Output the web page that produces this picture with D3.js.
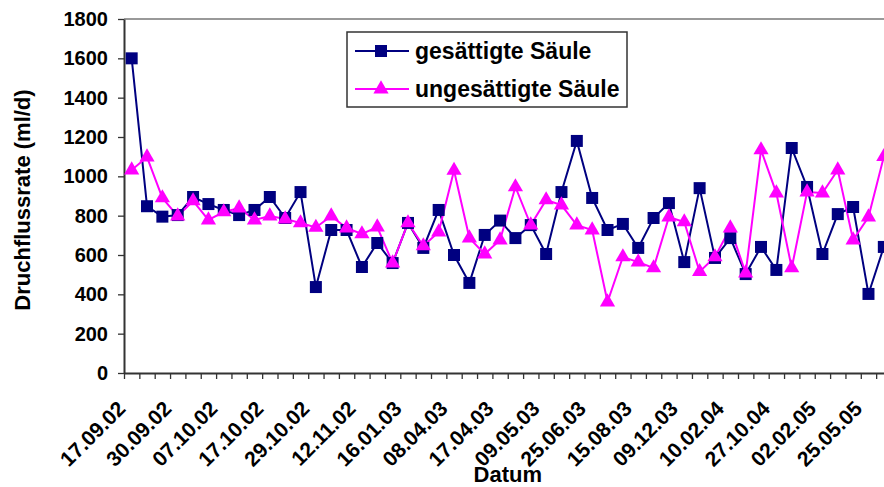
<!DOCTYPE html>
<html>
<head>
<meta charset="utf-8">
<script src="https://cdn.jsdelivr.net/npm/d3@7"></script>
<style>
  body { margin: 0; background: #fff; }
  svg { display: block; font-family: "Liberation Sans", Arial, sans-serif; font-weight: bold; }
</style>
</head>
<body>
<svg id="chart" width="884" height="487"></svg>
<script>
// Messwerte (ml/d), eine pro Messtermin
var gesaettigt = [1600, 848, 795, 803, 895, 859, 829, 803, 829, 895, 788, 920, 437, 727, 727, 539, 661, 559, 763, 636,
    829, 600, 458, 702, 775, 686, 752, 605, 920, 1180, 890, 727, 758, 636, 788, 864, 564, 940, 585, 686,
    503, 641, 524, 1144, 946, 605, 808, 844, 402, 641];
var ungesaettigt = [1032, 1098, 890, 798, 875, 778, 819, 839, 778, 798, 783, 763, 740, 798, 737, 707, 742, 559, 763, 646,
    717, 1030, 686, 605, 676, 946, 752, 880, 854, 752, 727, 361, 590, 564, 534, 793, 768, 515, 590, 737,
    508, 1134, 915, 534, 920, 915, 1032, 676, 793, 1100];
// only every third date is printed on the axis
var dateLabels = ["17.09.02", "30.09.02", "07.10.02", "17.10.02", "29.10.02", "12.11.02", "16.01.03", "08.04.03",
    "17.04.03", "09.05.03", "25.06.03", "15.08.03", "09.12.03", "10.02.04", "27.10.04", "02.02.05", "25.05.05"];
var labelEvery = 3;
var yTicks = [0, 200, 400, 600, 800, 1000, 1200, 1400, 1600, 1800];
var seriesNames = ["gesättigte Säule", "ungesättigte Säule"];

var svg = d3.select("#chart");

var plotLeft = 124, plotTop = 19, plotBottom = 373,
    band = 15.35,
    n = gesaettigt.length,
    plotRight = plotLeft + n * band;

var x = d3.scaleBand().domain(d3.range(n)).range([plotLeft, plotRight]);
var xEdge = d3.scaleLinear().domain([0, n]).range([plotLeft, plotRight]);
var y = d3.scaleLinear().domain([0, 1800]).range([plotBottom, plotTop]);

// top border of plot area
svg.append("line")
    .attr("x1", plotLeft).attr("x2", 884)
    .attr("y1", plotTop).attr("y2", plotTop)
    .style("stroke", "#999").style("stroke-width", 2);

// y axis
var yAxis = svg.append("g")
    .attr("transform", "translate(" + plotLeft + ",0)")
    .call(d3.axisLeft(y).tickValues(yTicks).tickFormat(d3.format("d"))
        .tickSize(6).tickPadding(10).tickSizeOuter(0));
yAxis.selectAll("text").style("font-size", "20px").style("fill", "#000");

// x axis, ticks between categories
var xAxis = svg.append("g")
    .attr("transform", "translate(0," + plotBottom + ")")
    .call(d3.axisBottom(xEdge).tickValues(d3.range(n + 1)).tickSize(6).tickFormat("").tickSizeOuter(0));

svg.selectAll(".domain, .tick line").style("stroke", "#333").style("stroke-width", 2);
xAxis.selectAll(".tick line").style("stroke-width", 1.3);
yAxis.selectAll(".tick line").style("stroke-width", 1.3);
svg.selectAll("g").attr("font-family", null).attr("font-size", null);

svg.append("g").selectAll("text")
    .data(dateLabels)
    .enter().append("text")
    .attr("transform", function (d, i) {
        var cx = x(i * labelEvery) + x.bandwidth() / 2;
        return "translate(" + (cx - 5) + ",410) rotate(-45)";
    })
    .style("text-anchor", "end")
    .style("font-size", "21px")
    .text(function (d) { return d; });

// axis titles
svg.append("text")
    .attr("x", (plotLeft + plotRight) / 2)
    .attr("y", 482)
    .style("text-anchor", "middle")
    .style("font-size", "22px")
    .text("Datum");

svg.append("text")
    .attr("transform", "translate(30," + ((plotTop + plotBottom) / 2 + 4) + ") rotate(-90)")
    .style("text-anchor", "middle")
    .style("font-size", "22px")
    .text("Druchflussrate (ml/d)");

function cx(d, i) { return x(i) + x.bandwidth() / 2; }

var line = d3.line().x(cx).y(function (d) { return y(d); });

var series = [
    { name: seriesNames[0], values: gesaettigt, color: "#000080", symbol: d3.symbolSquare, size: 144 },
    { name: seriesNames[1], values: ungesaettigt, color: "#ff00ff", symbol: d3.symbolTriangle, size: 100 }
];

series.forEach(function (s) {
    svg.append("path")
        .datum(s.values)
        .attr("d", line)
        .style("fill", "none")
        .style("stroke", s.color)
        .style("stroke-width", 2);
});

series.forEach(function (s) {
    svg.append("g").selectAll("path")
        .data(s.values)
        .enter().append("path")
        .attr("transform", function (d, i) { return "translate(" + cx(d, i) + "," + y(d) + ")"; })
        .attr("d", d3.symbol().type(s.symbol).size(s.size))
        .style("fill", s.color);
});

// legend
var legend = svg.append("g");
legend.append("rect")
    .attr("x", 347).attr("y", 32)
    .attr("width", 280).attr("height", 75)
    .style("fill", "#fff")
    .style("stroke", "#333")
    .style("stroke-width", 1.5);

var item = legend.selectAll(".item")
    .data(series)
    .enter().append("g")
    .attr("class", "item")
    .attr("transform", function (d, i) { return "translate(0," + (51 + i * 38) + ")"; });

item.append("line")
    .attr("x1", 355).attr("x2", 409)
    .style("stroke", function (d) { return d.color; })
    .style("stroke-width", 2);

item.append("path")
    .attr("transform", "translate(381,0)")
    .attr("d", function (d) { return d3.symbol().type(d.symbol).size(d.size)(); })
    .style("fill", function (d) { return d.color; });

item.append("text")
    .attr("x", 415)
    .attr("dy", "0.36em")
    .style("font-size", "23px")
    .text(function (d) { return d.name; });
</script>
</body>
</html>
